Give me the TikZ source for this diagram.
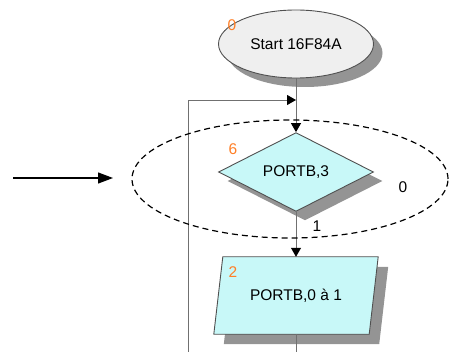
\documentclass[tikz,border=0pt]{standalone}
\usepackage{fontspec}
\setmainfont{Liberation Sans}
\usetikzlibrary{shapes.geometric,arrows.meta,shadows}
\definecolor{startfill}{HTML}{EFEFEF}
\definecolor{boxfill}{HTML}{C8F8F8}
\definecolor{edge}{HTML}{505050}
\definecolor{wire}{HTML}{707070}
\definecolor{numcol}{HTML}{FF7F27}
\definecolor{shadowcol}{HTML}{949494}
\tikzset{
  shade9/.style={drop shadow={shadow xshift=9pt,shadow yshift=-9pt,fill=shadowcol,opacity=1}},
  chartnode/.style={draw=edge,line width=0.9pt,inner sep=0pt,
    font=\fontsize{15.5}{18}\selectfont},
  startnode/.style={chartnode,shade9,ellipse,fill=startfill,minimum width=155pt,minimum height=68pt},
  testnode/.style={chartnode,shade9,diamond,fill=boxfill,minimum width=155pt,minimum height=75pt},
  actnode/.style={inner sep=0pt,font=\fontsize{15.5}{18}\selectfont,
    minimum width=155pt,minimum height=77pt},
  outline/.style={draw=edge,line width=0.9pt,fill=boxfill},
  numlabel/.style={text=numcol,font=\fontsize{15.5}{18}\selectfont,inner sep=0pt},
  branchlabel/.style={text=black,font=\fontsize{15.5}{18}\selectfont,inner sep=0pt},
  wireline/.style={draw=wire,line width=0.9pt},
  flowarrow/.style={wireline,-{Triangle[length=9pt,width=10pt,fill=black,color=black]}},
}
\begin{document}
\begin{tikzpicture}[x=1pt,y=-1pt]
  \useasboundingbox (0,0) rectangle (449,352);

  % flowchart blocks
  \node[startnode] (start) at (296,44) {\raisebox{-4pt}{Start 16F84A}};
  \node[testnode] (test) at (296,172) {PORTB,3};

  % action block: a slanted box drawn round an anchor node
  \node[actnode] (act) at (296,295.5) {};
  \fill[shadowcol]
    ([xshift=14.5pt,yshift=-10pt]act.north west) -- ([xshift=14.5pt,yshift=-10pt]act.north east)
    -- ([xshift=5.5pt,yshift=-10pt]act.south east) -- ([xshift=5.5pt,yshift=-10pt]act.south west) -- cycle;
  \draw[outline]
    ([xshift=4.5pt]act.north west) -- ([xshift=4.5pt]act.north east)
    -- ([xshift=-4.5pt]act.south east) -- ([xshift=-4.5pt]act.south west) -- cycle;
  \node[actnode] (acttext) at (act.center) {PORTB,0 à 1};

  % block numbers and branch values
  \node[numlabel] (n0) at (232,25) {0};
  \node[numlabel] (n6) at (233,149) {6};
  \node[numlabel] (n2) at (233,272) {2};
  \node[branchlabel] (b0) at (403,187) {0};
  \node[branchlabel] (b1) at (317,226) {1};

  % loop-back wire and joins
  \coordinate (loopbot) at (188,352);
  \coordinate (loopturn) at (188,100);
  \coordinate (join) at (296,100);
  \coordinate (outbot) at (296,352);

  \draw[wireline] (start.south) -- (join);
  \draw[flowarrow] (join) -- (test.north);
  \draw[flowarrow] (loopbot) -- (loopturn) -- (join);
  \draw[flowarrow] (test.south) -- (act.north);
  \draw[wireline] (act.south) -- (outbot);

  % highlight around the test block
  \node[draw=black,dashed,dash pattern=on 6pt off 4pt,line width=1.2pt,ellipse,
        minimum width=316pt,minimum height=118pt] (focus) at (290,179) {};

  % pointer to the highlight
  \coordinate (ptrA) at (13,178);
  \coordinate (ptrB) at (113,178);
  \draw[line width=1.2pt,-{Triangle[length=15pt,width=11pt]}] (ptrA) -- (ptrB);
\end{tikzpicture}
\end{document}
